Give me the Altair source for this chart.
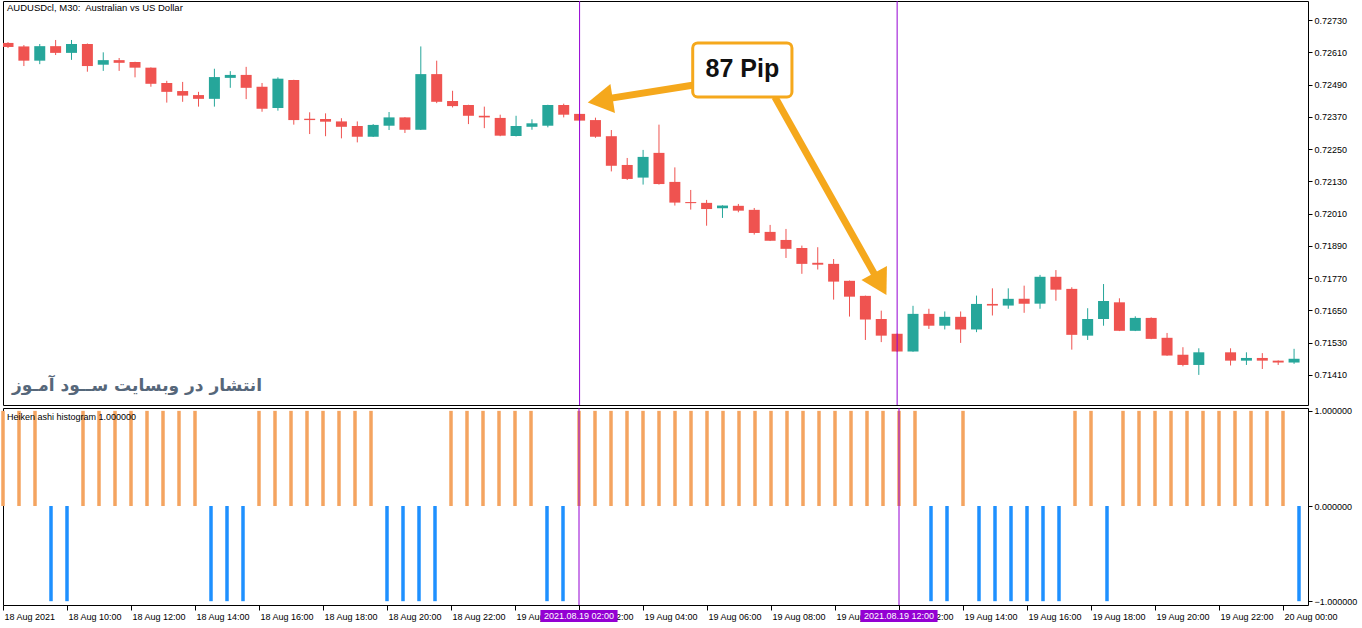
import altair as alt
import pandas as pd

# ---------------- data ----------------
candle_idx = list(range(82))
open_ = [0.72645, 0.72632, 0.72579, 0.72633, 0.72608, 0.72641, 0.72564, 0.72581, 0.72574, 0.72553,
         0.72496, 0.72466, 0.72451, 0.72437, 0.72515, 0.72526, 0.72482, 0.72403, 0.72507, 0.72363,
         0.72362, 0.72353, 0.72336, 0.72296, 0.72337, 0.72368, 0.72322, 0.72529, 0.72429, 0.72414,
         0.72374, 0.72366, 0.72299, 0.72333, 0.72337, 0.72414, 0.72381, 0.72358, 0.72298, 0.72191,
         0.72144, 0.72236, 0.72128, 0.72053, 0.72050, 0.72030, 0.72039, 0.72024, 0.71942, 0.71912,
         0.71882, 0.71827, 0.71823, 0.71760, 0.71704, 0.71618, 0.71563, 0.71497, 0.71637, 0.71593,
         0.71626, 0.71579, 0.71674, 0.71668, 0.71693, 0.71675, 0.71775, 0.71730, 0.71556, 0.71618,
         0.71680, 0.71574, 0.71622, 0.71548, 0.71485, 0.71447, 0.71488, 0.71494, 0.71463, 0.71473,
         0.71463, 0.71456]
high = [0.72648, 0.72637, 0.72641, 0.72656, 0.72656, 0.72643, 0.72610, 0.72589, 0.72575, 0.72554,
        0.72504, 0.72500, 0.72463, 0.72549, 0.72540, 0.72556, 0.72496, 0.72517, 0.72508, 0.72387,
        0.72383, 0.72365, 0.72353, 0.72343, 0.72388, 0.72369, 0.72632, 0.72579, 0.72467, 0.72415,
        0.72408, 0.72378, 0.72374, 0.72361, 0.72415, 0.72419, 0.72382, 0.72367, 0.72321, 0.72217,
        0.72247, 0.72341, 0.72182, 0.72098, 0.72061, 0.72041, 0.72046, 0.72031, 0.71968, 0.71953,
        0.71891, 0.71885, 0.71841, 0.71761, 0.71705, 0.71649, 0.71564, 0.71667, 0.71656, 0.71646,
        0.71646, 0.71705, 0.71732, 0.71732, 0.71742, 0.71782, 0.71800, 0.71736, 0.71658, 0.71748,
        0.71695, 0.71628, 0.71624, 0.71566, 0.71513, 0.71509, 0.71488, 0.71509, 0.71494, 0.71491,
        0.71464, 0.71507]
low = [0.72626, 0.72559, 0.72566, 0.72600, 0.72582, 0.72538, 0.72541, 0.72541, 0.72517, 0.72482,
       0.72423, 0.72426, 0.72408, 0.72408, 0.72478, 0.72436, 0.72389, 0.72393, 0.72341, 0.72306,
       0.72298, 0.72290, 0.72275, 0.72295, 0.72321, 0.72310, 0.72321, 0.72421, 0.72405, 0.72343,
       0.72328, 0.72298, 0.72297, 0.72322, 0.72331, 0.72368, 0.72355, 0.72292, 0.72167, 0.72135,
       0.72118, 0.72118, 0.72040, 0.72025, 0.71965, 0.71994, 0.72015, 0.71932, 0.71908, 0.71845,
       0.71786, 0.71802, 0.71690, 0.71627, 0.71540, 0.71532, 0.71496, 0.71496, 0.71581, 0.71579,
       0.71529, 0.71569, 0.71631, 0.71656, 0.71641, 0.71656, 0.71686, 0.71504, 0.71540, 0.71593,
       0.71573, 0.71573, 0.71543, 0.71481, 0.71442, 0.71410, 0.71488, 0.71445, 0.71447, 0.71432,
       0.71447, 0.71451]
close = [0.72630, 0.72579, 0.72633, 0.72608, 0.72641, 0.72559, 0.72581, 0.72571, 0.72553, 0.72493,
         0.72463, 0.72449, 0.72437, 0.72518, 0.72526, 0.72478, 0.72400, 0.72512, 0.72358, 0.72358,
         0.72352, 0.72333, 0.72296, 0.72340, 0.72368, 0.72322, 0.72529, 0.72426, 0.72410, 0.72374,
         0.72368, 0.72300, 0.72336, 0.72346, 0.72414, 0.72378, 0.72356, 0.72296, 0.72188, 0.72139,
         0.72221, 0.72120, 0.72051, 0.72049, 0.72027, 0.72040, 0.72021, 0.71938, 0.71909, 0.71879,
         0.71823, 0.71820, 0.71757, 0.71701, 0.71616, 0.71556, 0.71497, 0.71637, 0.71593, 0.71626,
         0.71579, 0.71674, 0.71668, 0.71693, 0.71675, 0.71775, 0.71727, 0.71559, 0.71618, 0.71685,
         0.71574, 0.71622, 0.71544, 0.71482, 0.71447, 0.71494, 0.71488, 0.71463, 0.71473, 0.71463,
         0.71456, 0.71470]

# Heiken ashi histogram (+1 orange / -1 blue as drawn)
ha_hist = [1, 1, 1, -1, -1, 1, 1, 1, 1, 1,
           1, 1, 1, -1, -1, -1, 1, 1, 1, 1,
           1, 1, 1, 1, -1, -1, -1, -1, 1, 1,
           1, 1, 1, 1, -1, -1, 1, 1, 1, 1,
           1, 1, 1, 1, 1, 1, 1, 1, 1, 1,
           1, 1, 1, 1, 1, 1, 1, 1, -1, -1,
           1, -1, -1, -1, -1, -1, -1, 1, 1, -1,
           1, 1, 1, 1, 1, 1, 1, 1, 1, 1,
           1, -1]

time_tick_idx = [0, 4, 8, 12, 16, 20, 24, 28, 32, 36, 40, 44, 48, 52, 56, 60, 64, 68, 72, 76, 80]
time_tick_labels = ["18 Aug 2021", "18 Aug 10:00", "18 Aug 12:00", "18 Aug 14:00", "18 Aug 16:00",
                    "18 Aug 18:00", "18 Aug 20:00", "18 Aug 22:00", "19 Aug 00:00", "19 Aug 02:00",
                    "19 Aug 04:00", "19 Aug 06:00", "19 Aug 08:00", "19 Aug 10:00", "19 Aug 12:00",
                    "19 Aug 14:00", "19 Aug 16:00", "19 Aug 18:00", "19 Aug 20:00", "19 Aug 22:00",
                    "20 Aug 00:00"]
price_ticks = [0.71410, 0.71530, 0.71650, 0.71770, 0.71890, 0.72010, 0.72130, 0.72250,
               0.72370, 0.72490, 0.72610, 0.72730]

event_idx = [36, 56]
event_labels = ["2021.08.19 02:00", "2021.08.19 12:00"]

# annotation (in data coordinates: candle index / price)
note_text = "87 Pip"
note_box_x = [43.125]
note_box_x2 = [49.375]
note_box_y = [0.72645]
note_box_y2 = [0.72444]
note_text_x = [46.25]
note_text_y = [0.72548]
arrow_x = [43.6, 48.3]
arrow_y = [0.72492, 0.72444]
arrow_x2 = [37.6, 54.6]
arrow_y2 = [0.72436, 0.71782]
head_x = [37.3, 54.94]
head_y = [0.72431, 0.71748]
head_angle = [261, 151]

title_text = "AUDUSDcl, M30:\u00a0 Australian vs US Dollar"
sub_title = "Heiken ashi histogram 1.000000"
watermark = "انتشار در وبسایت ســود آمـوز"

# ---------------- styling ----------------
RED = "#ef5350"
TEAL = "#26a69a"
ORANGE_H = "#f4a460"
BLUE_H = "#1e90ff"
PURPLE = "#9400d3"
ARROW = "#f5a81c"
FONT = "Liberation Sans"
W = 1305
H1 = 404
H2 = 197

df = pd.DataFrame({"i": candle_idx, "open": open_, "high": high, "low": low, "close": close})
df["col"] = [TEAL if c > o else RED for o, c in zip(open_, close)]

xscale = alt.Scale(domain=[0, 81.5625], nice=False, zero=False)
yscale = alt.Scale(domain=[0.71298, 0.72801], nice=False, zero=False)

base = alt.Chart(df)
wick = base.mark_rule(strokeWidth=1, clip=True).encode(
    x=alt.X("i:Q", scale=xscale, axis=None),
    y=alt.Y("low:Q", scale=yscale,
            axis=alt.Axis(orient="right", values=price_ticks, tickCount=40, format=".5f",
                          grid=False, domain=False, tickSize=4, labelPadding=2, title=None,
                          labelOverlap=False, labelBound=False, labelFlush=False)),
    y2="high:Q",
    color=alt.Color("col:N", scale=None, legend=None),
)
body = base.mark_bar(size=11, clip=True).encode(
    x=alt.X("i:Q", axis=None),
    y="open:Q",
    y2="close:Q",
    color=alt.Color("col:N", scale=None, legend=None),
)

ev_df = pd.DataFrame({"i": event_idx, "label": event_labels})
ev_df["a"] = [e - 2.41 for e in event_idx]
ev_df["b"] = [e + 2.41 for e in event_idx]
vline_top = alt.Chart(ev_df).mark_rule(color=PURPLE, strokeWidth=1).encode(x=alt.X("i:Q", axis=None))

arrows_df = pd.DataFrame({"x": arrow_x, "y": arrow_y, "x2": arrow_x2, "y2": arrow_y2})
arrow_lines = alt.Chart(arrows_df).mark_rule(color=ARROW, strokeWidth=7, strokeCap="butt").encode(
    x=alt.X("x:Q", axis=None), y="y:Q", x2="x2:Q", y2="y2:Q")
heads_df = pd.DataFrame({"x": head_x, "y": head_y, "angle": head_angle})
arrow_heads = alt.Chart(heads_df).mark_point(shape="triangle-up", filled=True, size=850,
                                             color=ARROW, opacity=1).encode(
    x=alt.X("x:Q", axis=None), y="y:Q", angle=alt.Angle("angle:Q", scale=None))

box_df = pd.DataFrame({"x": note_box_x, "x2": note_box_x2, "y": note_box_y, "y2": note_box_y2})
box_shadow = alt.Chart(box_df).mark_rect(cornerRadius=5, color="#000000", opacity=0.18,
                                         xOffset=3, yOffset=4).encode(
    x=alt.X("x:Q", axis=None), x2="x2:Q", y="y:Q", y2="y2:Q")
box = alt.Chart(box_df).mark_rect(cornerRadius=5, fill="white", stroke=ARROW, strokeWidth=3).encode(
    x=alt.X("x:Q", axis=None), x2="x2:Q", y="y:Q", y2="y2:Q")
note_df = pd.DataFrame({"x": note_text_x, "y": note_text_y, "t": [note_text]})
note = alt.Chart(note_df).mark_text(fontSize=25, fontWeight="bold", font=FONT, color="#111111",
                                    baseline="middle", align="center").encode(
    x=alt.X("x:Q", axis=None), y="y:Q", text="t:N")

title_mark = alt.Chart(pd.DataFrame({"t": [title_text]})).mark_text(
    align="left", baseline="middle", fontSize=9.5, font=FONT, color="black").encode(
    x=alt.value(4), y=alt.value(7), text="t:N")
wm_mark = alt.Chart(pd.DataFrame({"t": [watermark]})).mark_text(
    align="center", baseline="middle", fontSize=17, fontWeight="bold", font="DejaVu Sans",
    color="#56677a").encode(x=alt.value(134), y=alt.value(385), text="t:N")

upper = alt.layer(wick, body, vline_top, arrow_lines, arrow_heads, box_shadow, box, note,
                  title_mark, wm_mark).properties(width=W, height=H1)

# ---------------- lower panel ----------------
hdf = pd.DataFrame({"i": candle_idx, "v": ha_hist})
hdf["zero"] = 0
hdf["col"] = [ORANGE_H if v > 0 else BLUE_H for v in ha_hist]
label_expr = "[" + ",".join("'" + s + "'" for s in time_tick_labels) + "][round(datum.value/4)]"

hist = alt.Chart(hdf).mark_rule(strokeWidth=3.5, strokeCap="butt").encode(
    x=alt.X("i:Q", scale=xscale,
            axis=alt.Axis(values=time_tick_idx, tickCount=60, labelExpr=label_expr,
                          labelAlign="left", labelOffset=1, tickSize=5, labelPadding=2,
                          domain=False, grid=False, labelOverlap=False, labelBound=False,
                          labelFlush=False, title=None)),
    y=alt.Y("v:Q", scale=alt.Scale(domain=[-1.04, 1.03], nice=False, zero=False),
            axis=alt.Axis(orient="right", values=[1, 0, -1], tickCount=10, format=".6f",
                          grid=False, domain=False, tickSize=4, labelPadding=2, title=None,
                          labelOverlap=False, labelBound=False, labelFlush=False)),
    y2="zero:Q",
    color=alt.Color("col:N", scale=None, legend=None),
)
vline_bot = alt.Chart(ev_df).mark_rule(color=PURPLE, strokeWidth=1).encode(x="i:Q")
date_box = alt.Chart(ev_df).mark_rect(color=PURPLE).encode(
    x="a:Q", x2="b:Q", y=alt.value(H2 + 5), y2=alt.value(H2 + 17))
date_txt = alt.Chart(ev_df).mark_text(color="white", fontSize=9, font=FONT,
                                      baseline="middle", align="center").encode(
    x="i:Q", y=alt.value(H2 + 11), text="label:N")
sub_mark = alt.Chart(pd.DataFrame({"t": [sub_title]})).mark_text(
    align="left", baseline="middle", fontSize=9, font=FONT, color="black").encode(
    x=alt.value(4), y=alt.value(9), text="t:N")

lower = alt.layer(hist, vline_bot, date_box, date_txt, sub_mark).properties(width=W, height=H2)

chart = alt.vconcat(upper, lower, spacing=3, bounds="flush").configure_view(
    stroke="black", strokeWidth=1
).configure_axis(
    labelFont=FONT, labelFontSize=9, labelColor="black", tickColor="black",
    labelOverlap=False, labelSeparation=0
).properties(
    padding={"left": 0, "top": 0, "right": 2, "bottom": 2}, background="white"
)

chart.save("out.html", embed_options={"renderer": "svg", "actions": False})
